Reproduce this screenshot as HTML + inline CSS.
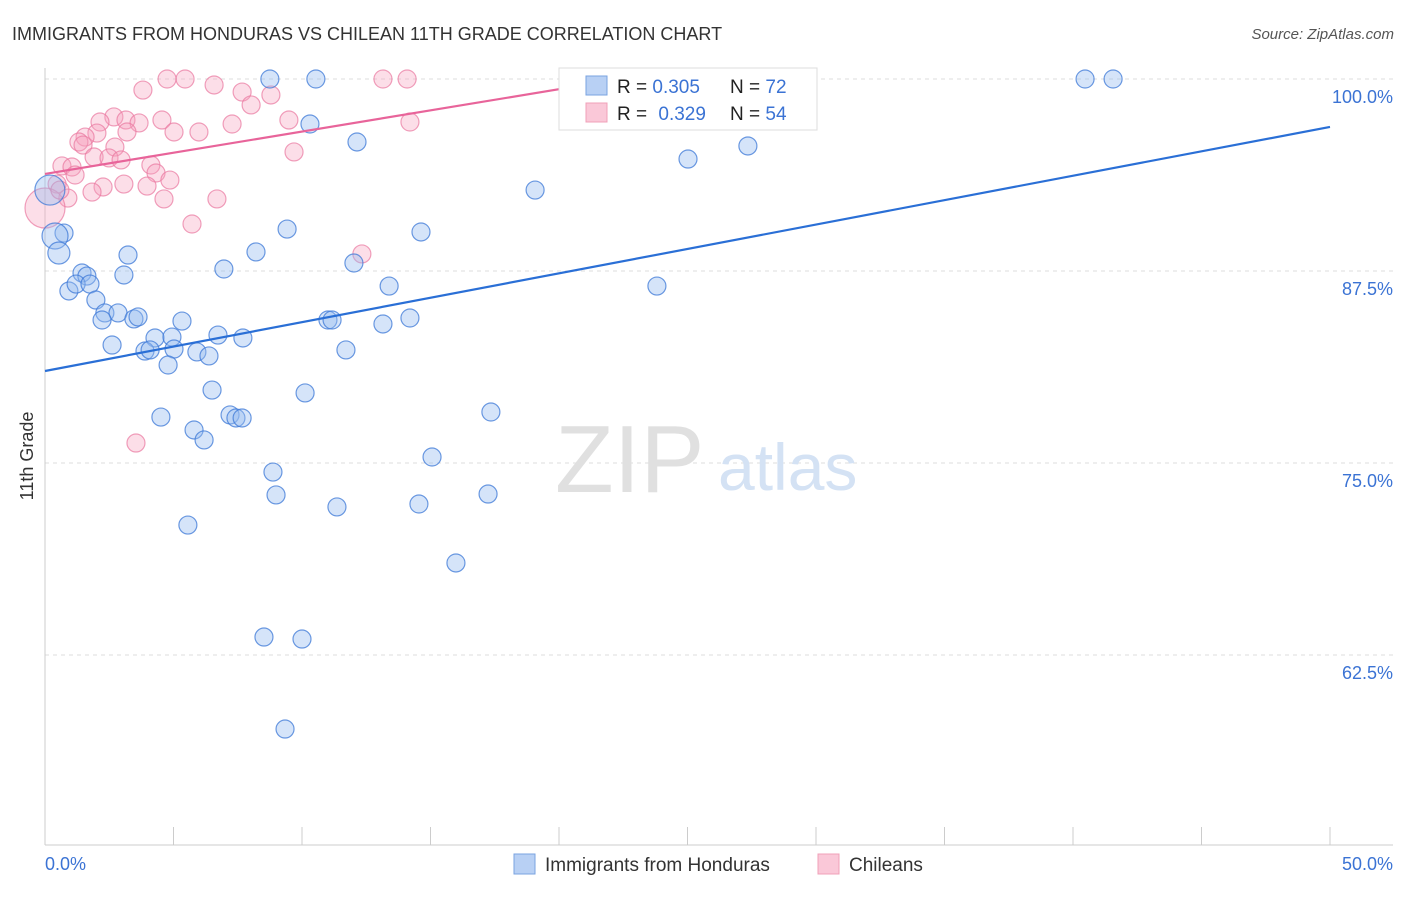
<!DOCTYPE html>
<html><head><meta charset="utf-8"><style>
body{margin:0;background:#fff;font-family:"Liberation Sans",sans-serif;}
svg text{font-family:"Liberation Sans",sans-serif;}
</style></head><body>
<svg width="1406" height="892" viewBox="0 0 1406 892">
<script>
const blueX=[8.75,10.54,40.47,41.56,24.44,28.13,10.31,12.14,27.35,25.02,19.07,9.42,14.63,0.74,0.39,0.54,3.23,8.21,12.02,6.96,1.44,1.63,3.07,0.93,1.21,1.75,23.81,13.39,1.98,2.33,2.84,2.22,3.46,3.62,5.33,11.01,11.17,13.15,14.20,4.28,4.94,6.73,7.70,2.61,3.89,4.09,5.02,5.91,6.38,11.71,4.79,6.50,10.12,4.51,7.20,7.43,7.67,17.35,5.80,6.19,15.06,8.87,8.99,17.24,11.36,14.55,5.56,15.99,8.52,10.00,9.34,0.19];
const blueY=[100,100,100,100,100,100,97.07,95.90,95.64,94.79,92.77,90.23,90.04,89.97,89.78,88.67,88.54,88.74,88.02,87.63,87.37,87.17,87.24,86.20,86.65,86.65,86.52,86.52,85.61,84.77,84.77,84.31,84.38,84.51,84.24,84.31,84.31,84.05,84.44,83.14,83.20,83.33,83.14,82.68,82.29,82.36,82.42,82.23,81.97,82.36,81.38,79.75,79.56,77.99,78.13,77.93,77.93,78.32,77.15,76.50,75.39,74.41,72.92,72.98,72.14,72.33,70.96,68.49,63.67,63.54,57.68,92.77];
const blueR=[9,9,9,9,9,9,9,9,9,9,9,9,9,9,13,11,9,9,9,9,9,9,9,9,9,9,9,9,9,9,9,9,9,9,9,9,9,9,9,9,9,9,9,9,9,9,9,9,9,9,9,9,9,9,9,9,9,9,9,9,9,9,9,9,9,9,9,9,9,9,9,15];
const pinkX=[4.75,5.45,13.15,14.09,6.58,7.67,8.79,8.02,3.81,7.28,9.49,14.20,4.55,5.02,5.99,2.68,3.15,2.14,3.66,3.19,2.02,1.56,1.32,1.48,2.72,1.91,2.49,2.96,4.12,0.66,1.05,4.32,4.86,2.26,3.07,3.97,1.83,0.89,0.47,4.63,6.69,9.69,5.72,12.33,3.54,0.0,1.17,0.58];
const pinkY=[100,100,100,100,99.61,99.15,98.96,98.31,99.28,97.07,97.33,97.20,97.33,96.55,96.55,97.53,97.33,97.20,97.14,96.55,96.48,96.22,95.90,95.70,95.57,94.92,94.86,94.73,94.40,94.34,94.27,93.88,93.42,92.97,93.16,93.03,92.64,92.25,93.16,92.19,92.19,95.25,90.56,88.61,76.30,91.6,93.75,92.77];
const pinkR=[9,9,9,9,9,9,9,9,9,9,9,9,9,9,9,9,9,9,9,9,9,9,9,9,9,9,9,9,9,9,9,9,9,9,9,9,9,9,9,9,9,9,9,9,9,20,9,9];
const blueTrend=[0,80.99,50,96.88];
const pinkTrend=[0,93.82,21.5,99.75];
const yTicks=[100,87.5,75,62.5];
const yTickLabels=["100.0%","87.5%","75.0%","62.5%"];
</script>
<g id="grid"></g>
<line x1="45" y1="68" x2="45" y2="845" stroke="#ccc"/>
<line x1="45" y1="845" x2="1393" y2="845" stroke="#ccc"/>
<g id="xticks"></g>
<text x="555" y="492" font-size="96" fill="#e0e0e0" font-family="Liberation Serif">ZIP</text>
<text x="718" y="490" font-size="66" fill="#d4e2f4">atlas</text>
<g id="pts"></g>
<g id="lines"></g>
<text x="12" y="40" font-size="18" fill="#333">IMMIGRANTS FROM HONDURAS VS CHILEAN 11TH GRADE CORRELATION CHART</text>
<text x="1394" y="39" font-size="15" fill="#555" font-style="italic" text-anchor="end">Source: ZipAtlas.com</text>
<text x="33" y="456" font-size="18" fill="#333" text-anchor="middle" transform="rotate(-90 33 456)">11th Grade</text>
<text x="45" y="870" font-size="18" fill="#3b73d4">0.0%</text>
<text x="1393" y="870" font-size="18" fill="#3b73d4" text-anchor="end">50.0%</text>
<g>
<rect x="559" y="68" width="258" height="62" fill="#fff" stroke="#ddd"/>
<rect x="586" y="76" width="21" height="19" fill="#b8d0f4" stroke="#7aa3e0"/>
<rect x="586" y="103" width="21" height="19" fill="#fac8d8" stroke="#f0a0b8"/>
<text x="617" y="93" font-size="19" fill="#222">R = <tspan fill="#3b73d4">0.305</tspan></text>
<text x="730" y="93" font-size="19" fill="#222">N = <tspan fill="#3b73d4">72</tspan></text>
<text x="617" y="120" font-size="19" fill="#222">R = <tspan fill="#3b73d4" dx="6">0.329</tspan></text>
<text x="730" y="120" font-size="19" fill="#222">N = <tspan fill="#3b73d4">54</tspan></text>
</g>
<g>
<rect x="514" y="854" width="21" height="20" fill="#b8d0f4" stroke="#7aa3e0"/>
<text x="545" y="871" font-size="19" fill="#333">Immigrants from Honduras</text></g>
<g>
<rect x="818" y="854" width="21" height="20" fill="#fac8d8" stroke="#f0a0b8"/>
<text x="849" y="871" font-size="19" fill="#333">Chileans</text></g>
<script>
const NS="http://www.w3.org/2000/svg";
const X0=45,X1=1330,Y100=79,YPX=15.36;
const sx=v=>X0+v*(X1-X0)/50;
const sy=v=>Y100+(100-v)*YPX;
const grid=document.getElementById('grid');
yTicks.forEach((t,i)=>{
 const l=document.createElementNS(NS,'line');
 
 
 l.setAttribute('x1',45);l.setAttribute('x2',1393);l.setAttribute('y1',sy(t));l.setAttribute('y2',sy(t));
 l.setAttribute('stroke','#ddd');l.setAttribute('stroke-dasharray','4 4');grid.appendChild(l);
 const tx=document.createElementNS(NS,'text');
 
 
 tx.setAttribute('x',1393);tx.setAttribute('y',sy(t)+24);tx.setAttribute('text-anchor','end');
 tx.setAttribute('font-size','18');tx.setAttribute('fill','#3b73d4');tx.textContent=yTickLabels[i];grid.appendChild(tx);
});
const xt=document.getElementById('xticks');
for(let i=0;i<=10;i++){
 const l=document.createElementNS(NS,'line');
 
 
 l.setAttribute('x1',sx(i*5));l.setAttribute('x2',sx(i*5));l.setAttribute('y1',827);l.setAttribute('y2',845);
 l.setAttribute('stroke','#ccc');xt.appendChild(l);
}
const pts=document.getElementById('pts');
function dot(x,y,r,fill,stroke,name){
 const c=document.createElementNS(NS,'circle');
 
 
 c.setAttribute('cx',sx(x));c.setAttribute('cy',sy(y));c.setAttribute('r',r);
 c.setAttribute('fill',fill);c.setAttribute('stroke',stroke);c.setAttribute('stroke-width','1.2');pts.appendChild(c);
}
pinkX.forEach((x,i)=>dot(x,pinkY[i],pinkR[i],'rgba(246,160,190,0.35)','rgba(234,120,160,0.7)','chilean-point'));
blueX.forEach((x,i)=>dot(x,blueY[i],blueR[i],'rgba(150,188,240,0.4)','rgba(60,120,215,0.75)','honduras-point'));
const lg=document.getElementById('lines');
function tl(a,col,name){
 const l=document.createElementNS(NS,'line');
 
 
 l.setAttribute('x1',sx(a[0]));l.setAttribute('y1',sy(a[1]));l.setAttribute('x2',sx(a[2]));l.setAttribute('y2',sy(a[3]));
 l.setAttribute('stroke',col);l.setAttribute('stroke-width','2.2');lg.appendChild(l);
}
tl(blueTrend,'#2a6fd6','honduras-trendline');
tl(pinkTrend,'#e8649a','chilean-trendline');
</script>
</svg>
</body></html>
